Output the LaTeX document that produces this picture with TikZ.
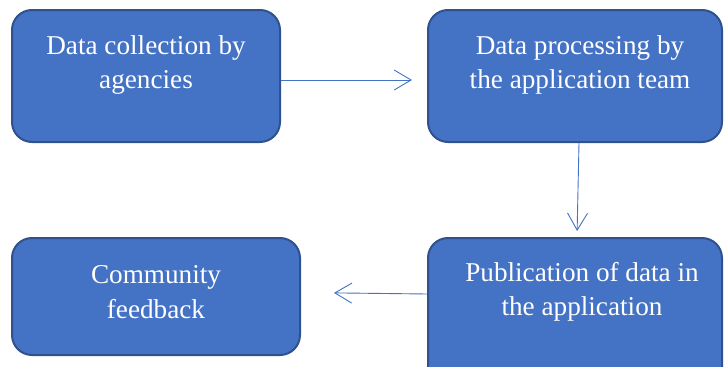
\documentclass[tikz,border=0pt]{standalone}
\usepackage{fontspec}
\setmainfont{Liberation Serif}
\usetikzlibrary{arrows.meta}
\definecolor{boxblue}{HTML}{4472C4}
\definecolor{edgeblue}{HTML}{2F528F}

\begin{document}
\begin{tikzpicture}[x=1pt, y=-1pt,
    stagebox/.style={draw=edgeblue, line width=2pt, fill=boxblue, rounded corners=20pt, inner sep=0pt},
    stagetext/.style={text=white, align=center, font=\fontsize{27.2}{34.5}\selectfont},
    flow/.style={draw=boxblue, line width=0.9pt, -{Straight Barb[length=17pt, width=20pt, line width=0.9pt]}}]
\useasboundingbox (0,0) rectangle (724,367);
\clip (0,0) rectangle (724,367);

% Boxes
\node[stagebox, minimum width=268pt, minimum height=132pt] (collect) at (146,76) {};
\node[stagetext] (collecttxt) at (146,65) {Data collection by\\agencies};

\node[stagebox, minimum width=294pt, minimum height=132pt] (process) at (575,76) {};
\node[stagetext] (processtxt) at (580,65) {Data processing by\\the application team};

\node[stagebox, minimum width=294pt, minimum height=162pt] (publish) at (575,319) {};
\node[stagetext] (publishtxt) at (582,292) {Publication of data in\\the application};

\node[stagebox, minimum width=288pt, minimum height=117pt] (feedback) at (156,296.5) {};
\node[stagetext] (feedbacktxt) at (156,292) {Community\\feedback};

% Arrows
\draw[flow, shorten >=15pt] ([yshift=-4pt]collect.east) -- ([yshift=-4pt]process.west);
\draw[flow, shorten >=6pt] ([xshift=4pt]process.south) -- ([xshift=2pt]publish.north);
\draw[flow, shorten >=33pt] ([yshift=25pt]publish.west) -- ([yshift=4pt]feedback.east);
\end{tikzpicture}
\end{document}
